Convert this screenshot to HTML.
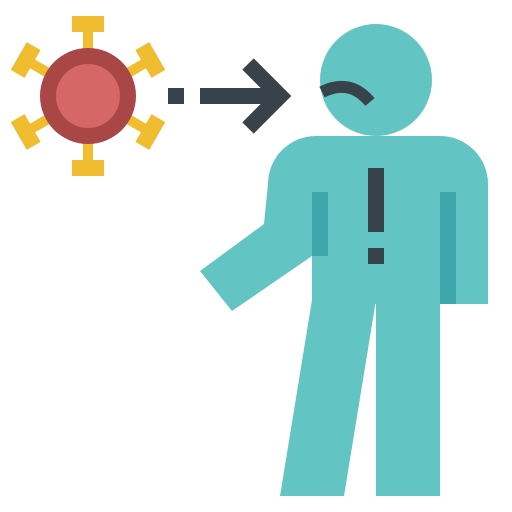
<!DOCTYPE html>
<html><head><meta charset="utf-8"><style>html,body{margin:0;padding:0;background:#fff}svg{display:block}</style></head>
<body>
<svg width="512" height="512" viewBox="0 0 512 512">
  <g fill="#f0bd30">
    <rect x="83" y="28" width="10" height="24"/>
    <rect x="72" y="16" width="32" height="16"/>
    <rect x="83" y="140" width="10" height="24"/>
    <rect x="72" y="160" width="32" height="16"/>
    <g transform="translate(88 96) rotate(60)">
      <rect x="-5" y="-68" width="10" height="24"/>
      <rect x="-16" y="-80" width="32" height="16"/>
      <rect x="-5" y="44" width="10" height="24"/>
      <rect x="-16" y="64" width="32" height="16"/>
    </g>
    <g transform="translate(88 96) rotate(-60)">
      <rect x="-5" y="-68" width="10" height="24"/>
      <rect x="-16" y="-80" width="32" height="16"/>
      <rect x="-5" y="44" width="10" height="24"/>
      <rect x="-16" y="64" width="32" height="16"/>
    </g>
    <circle cx="88" cy="96" r="48" fill="#a94747"/>
    <circle cx="88" cy="96" r="32" fill="#d66767"/>
  </g>
  <g fill="#37424a">
    <rect x="168" y="88" width="16" height="16"/>
    <rect x="200" y="88" width="80" height="16"/>
    <polyline points="248,64 280,96 248,128" fill="none" stroke="#37424a" stroke-width="16"/>
  </g>
  <g>
    <circle cx="376" cy="80" r="56" fill="#62c4c3"/>
    <path d="M322,92 Q350,78 370,102" fill="none" stroke="#37424a" stroke-width="12"/>
    <path d="M316,136 H440 A48,48 0 0 1 488,184 V304 H312 V256 L232,311 L200,271 L264,224 L268,184 A48,48 0 0 1 316,136 Z" fill="#62c4c3"/>
    <polygon points="312,300 376,300 344,496 280,496" fill="#62c4c3"/>
    <rect x="376" y="300" width="64" height="196" fill="#62c4c3"/>
    <rect x="312" y="192" width="16" height="64" fill="#3fa5ad"/>
    <rect x="440" y="192" width="16" height="112" fill="#3fa5ad"/>
    <rect x="368" y="168" width="16" height="64" fill="#37424a"/>
    <rect x="368" y="248" width="16" height="16" fill="#37424a"/>
  </g>
</svg>
</body></html>
